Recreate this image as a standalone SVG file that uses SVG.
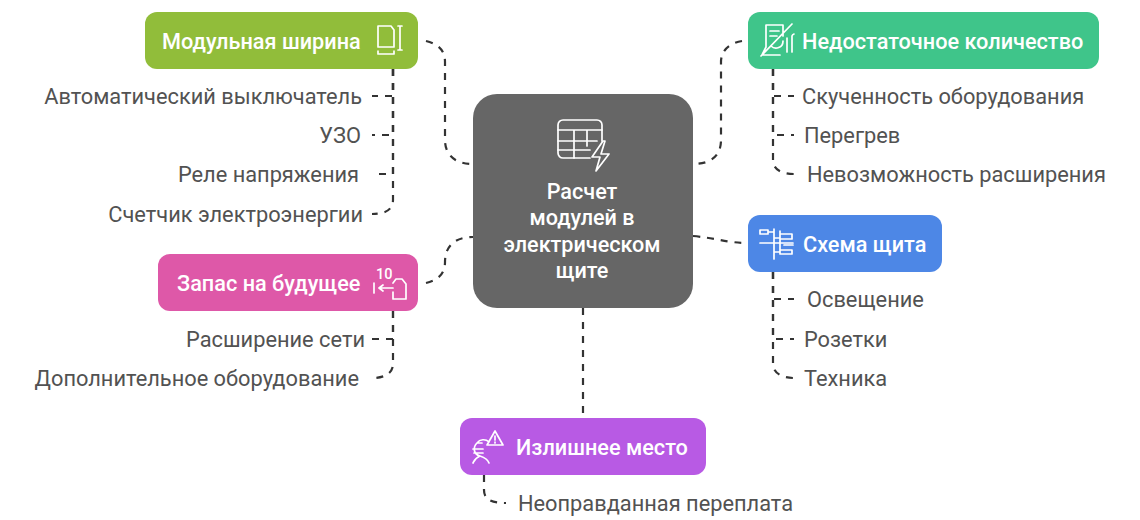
<svg xmlns="http://www.w3.org/2000/svg" width="1140" height="520" viewBox="0 0 1140 520">
<style>
text{font-family:Roboto,"Liberation Sans",sans-serif;font-size:21.8px}
.n{fill:#fff;font-weight:500;font-size:21.7px}
.c{fill:#fff;font-weight:500;font-size:21.6px;text-anchor:middle}
.l{fill:#525252}
.e{text-anchor:end}
.i{fill:none;stroke:#fff;stroke-width:1.7;stroke-linecap:round;stroke-linejoin:round}
#connectors path{fill:none;stroke:#333;stroke-width:2.2;stroke-dasharray:7 7}
</style>
<rect width="1140" height="520" fill="#fff"/>
<g id="connectors">
<path d="M426 41C438 44 445 50 445 62V140C445 155 455 164 473 164"/>
<path d="M393 69V96H372"/>
<path d="M393 69V135H372"/>
<path d="M393 69V174H372"/>
<path d="M393 69V200C393 210 385 214 372 214"/>
<path d="M742 41C730 43 721 50 721 62V140C721 155 712 164 693 164"/>
<path d="M773 69V96H794"/>
<path d="M773 69V135H794"/>
<path d="M773 69V160C773 170 782 174 794 174"/>
<path d="M693 236C715 238 728 243 748 243"/>
<path d="M773 272V299H794"/>
<path d="M773 272V339H794"/>
<path d="M773 272V364C773 373 782 378 794 378"/>
<path d="M426 283C438 280 445 274 445 262C445 246 455 237 473 237"/>
<path d="M393 311V339H372"/>
<path d="M393 311V364C393 373 385 378 372 378"/>
<path d="M583 308V418"/>
<path d="M484 475V490C484 500 492 503 506 503"/>
</g>
<g id="node-center">
<rect x="473" y="94" width="220" height="214" rx="24" fill="#666"/>
<g class="i"><path d="M590 158H563a5 5 0 0 1-5-5V125a5 5 0 0 1 5-5H597a5 5 0 0 1 5 5V141"/><path d="M558 130H602M558 141H597M558 150H590M574 130V158M587 130V146"/></g>
<path class="i" d="M603 141L592 157H600L596 171L609 154H601L605 141Z"/>
<text class="c" x="582" y="198.500">Расчет</text>
<text class="c" x="582" y="225">модулей в</text>
<text class="c" x="582" y="251.500">электрическом</text>
<text class="c" x="582" y="277.500">щите</text>
</g>
<g id="node-width">
<rect x="145" y="12" width="273" height="57" rx="12" fill="#91bd3a"/>
<text class="n" x="162" y="48.500">Модульная ширина</text>
<g class="i"><path d="M378 47V26H391L394 30V47ZM378 54H394M378 51V54M394 51V54M400 26V50M398 26H402M398 50H402"/></g>
</g>
<g id="node-shortage">
<rect x="748" y="12" width="351" height="57" rx="12" fill="#3fc58a"/>
<text class="n" x="802" y="48.500">Недостаточное количество</text>
<g class="i"><path d="M766 25H783V36M766 25V47M766 47L762 55H780M770 31H779M770 36H777M771 46A7 7 0 0 0 783 41M761 56L792 24M787 52V38M792 52V36A3 3 0 0 1 794 34"/></g>
</g>
<g id="node-scheme">
<rect x="748" y="215" width="194" height="57" rx="12" fill="#4d87e6"/>
<text class="n" x="803" y="251.500">Схема щита</text>
<g class="i"><path d="M760 243H793M774 229V259M780 231V254M760 230H768V234H760ZM780 234H792V239H780ZM780 250H792V254H780ZM768 232H774M774 238H780M774 252H780M784 245H793"/></g>
</g>
<g id="node-reserve">
<rect x="158" y="254" width="260" height="57" rx="12" fill="#de58a8"/>
<text class="n" x="177" y="290.500">Запас на будущее</text>
<text x="376" y="279" style="font-size:14.5px;font-weight:500" fill="#fff">10</text>
<g class="i"><path d="M374 283V293M379 288H393M379 288L383 285M379 288L383 291M393 292V299H406V284L402 279H396L393 283"/></g>
</g>
<g id="node-excess">
<rect x="460" y="418" width="246" height="57" rx="12" fill="#b85ae4"/>
<text class="n" x="516" y="454.500">Излишнее место</text>
<g class="i"><path d="M495 431L487 445H503ZM495 436V440M495 442V443M489 442A8 8 0 0 0 477 443C473 447 473 454 480 456C475 458 474 461 473 463M480 456C486 458 488 460 489 463M473 449H483M474 453H483M477 443H482"/></g>
</g>
<g id="labels">
<text class="l e" x="362" y="103.500">Автоматический выключатель</text>
<text class="l e" x="361" y="142.500">УЗО</text>
<text class="l e" x="359" y="182">Реле напряжения</text>
<text class="l e" x="363" y="221.500">Счетчик электроэнергии</text>
<text class="l" x="802" y="103.500">Скученность оборудования</text>
<text class="l" x="804" y="142.500">Перегрев</text>
<text class="l" x="807" y="182">Невозможность расширения</text>
<text class="l" x="807" y="307">Освещение</text>
<text class="l" x="804" y="346.500">Розетки</text>
<text class="l" x="804" y="385.500">Техника</text>
<text class="l e" x="365" y="346.500">Расширение сети</text>
<text class="l e" x="359" y="385.500">Дополнительное оборудование</text>
<text class="l" x="518" y="510.500">Неоправданная переплата</text>
</g>
</svg>
